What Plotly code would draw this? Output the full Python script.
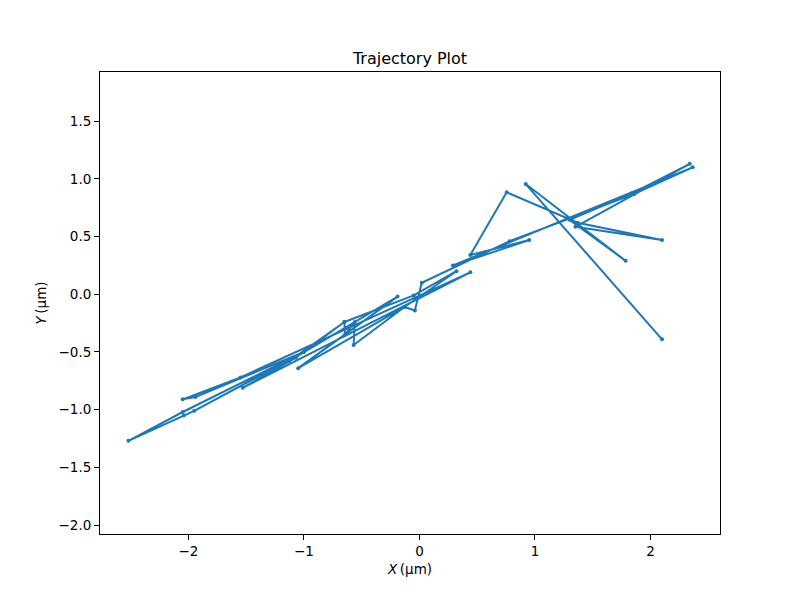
import plotly.graph_objects as go

x_um = [2.10, 0.92, 1.785, 1.30, 1.84, 2.34, 1.35, 2.10, 1.37, 0.755, 0.44, 0.95,
        0.29, 2.365, 1.86, 0.78, 0.02, -0.04, -0.13, 0.32, -0.05, -0.65, -0.645,
        -0.56, -0.57, -0.13, -1.05, -0.19, -1.13, -0.65, -1.07, -1.53, 0.44, -1.55,
        -2.05, -1.94, -1.00, -2.05, -2.52, -2.04, -1.95, -1.13]
y_um = [-0.39, 0.955, 0.29, 0.645, 0.875, 1.13, 0.585, 0.47, 0.62, 0.884, 0.34, 0.47,
        0.25, 1.10, 0.87, 0.46, 0.10, -0.14, -0.11, 0.20, -0.01, -0.24, -0.35,
        -0.24, -0.44, -0.11, -0.64, -0.02, -0.58, -0.24, -0.55, -0.81, 0.19, -0.72,
        -0.91, -0.89, -0.50, -1.02, -1.27, -1.05, -1.01, -0.57]

x_ticks = [-2, -1, 0, 1, 2]
x_tick_text = ["\u22122", "\u22121", "0", "1", "2"]
y_ticks = [-2.0, -1.5, -1.0, -0.5, 0.0, 0.5, 1.0, 1.5]
y_tick_text = ["\u22122.0", "\u22121.5", "\u22121.0", "\u22120.5", "0.0", "0.5", "1.0", "1.5"]

fig = go.Figure()
fig.add_trace(go.Scatter(
    x=x_um, y=y_um, mode="lines+markers",
    line=dict(color="#1f77b4", width=2),
    marker=dict(color="#1f77b4", size=4),
    showlegend=False,
))

axis_common = dict(
    showline=True, mirror=True, linecolor="black", linewidth=1,
    ticks="outside", ticklen=5, tickwidth=1, tickcolor="black",
    showgrid=False, zeroline=False, automargin=False,
    tickfont=dict(family="DejaVu Sans", size=13.5, color="black"),
)

fig.update_layout(
    width=800, height=600,
    margin=dict(l=92, r=88, t=64, b=74),
    paper_bgcolor="white", plot_bgcolor="white",
    font=dict(family="DejaVu Sans", color="black"),
    title=dict(text="Trajectory Plot", x=(92 + 310) / 800, xanchor="center",
               y=1 - 50 / 600, yanchor="middle",
               font=dict(family="DejaVu Sans", size=16, color="black")),
    xaxis=dict(range=[-2.766, 2.602], tickvals=x_ticks, ticktext=x_tick_text,
               title=dict(text="<i>X</i>\u2009(\u00b5m)", standoff=6,
                          font=dict(family="DejaVu Sans", size=13.5)),
               **axis_common),
    yaxis=dict(range=[-2.077, 1.926], tickvals=y_ticks, ticktext=y_tick_text,
               title=dict(text="<i>Y</i>\u2009(\u00b5m)", standoff=8,
                          font=dict(family="DejaVu Sans", size=13.5)),
               **axis_common),
)

fig.write_html("out.html")
